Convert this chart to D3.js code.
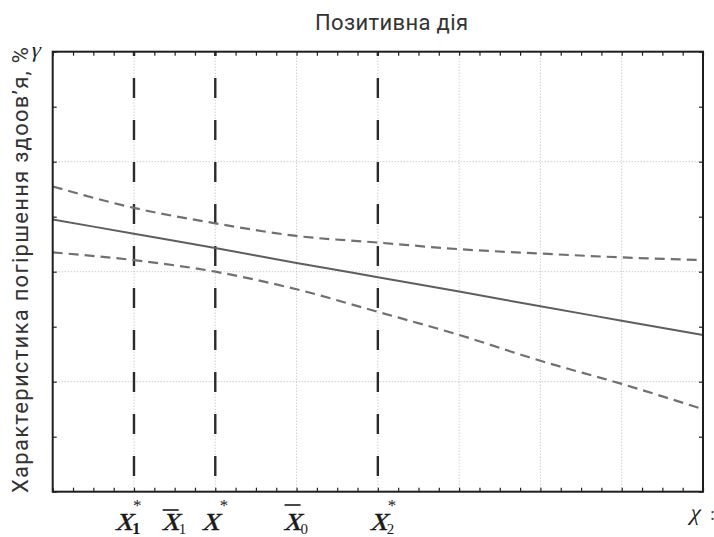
<!DOCTYPE html>
<html>
<head>
<meta charset="utf-8">
<script src="https://cdn.jsdelivr.net/npm/d3@7/dist/d3.min.js"></script>
<style>
  html, body { margin: 0; padding: 0; background: #fff; }
  svg { display: block; }
  .serif { font-family: "Liberation Serif", "DejaVu Serif", serif; }
</style>
</head>
<body>
<div id="chart"></div>
<script>
// ---- data ----
const titleText = "Позитивна дія";
const yLabelText = "Характеристика погіршення здоов’я, %";
const xPoints = [0, 1, 2, 3, 4, 5, 6, 7, 8];
const centralLine = [4.95, 4.69, 4.43, 4.16, 3.90, 3.64, 3.37, 3.11, 2.85];
const upperBound  = [5.55, 5.16, 4.88, 4.65, 4.53, 4.41, 4.33, 4.26, 4.21];
const lowerBound  = [4.35, 4.21, 4.00, 3.68, 3.27, 2.85, 2.38, 1.96, 1.50];
const markerLines = [1, 2, 4];                 // x1*, x*, x2*
const markerLabels = [
  { pos: 1,   base: "x", sub: "1", sup: "*", bar: false, boldSub: true },
  { pos: 1.5, base: "x", sub: "1", sup: "",  bar: true,  boldSub: false },
  { pos: 2,   base: "x", sub: "",  sup: "*", bar: false, boldSub: false },
  { pos: 3,   base: "x", sub: "0", sup: "",  bar: true,  boldSub: false },
  { pos: 4,   base: "x", sub: "2", sup: "*", bar: false, boldSub: false }
];
const xGrid = [1, 2, 3, 4, 5, 6, 7];
const yGrid = [2, 4, 6];
const xDomain = [0, 8];
const yDomain = [0, 8];

// ---- layout ----
const W = 714, H = 537;
const L = 52.7, R = 703, T = 51.7, B = 491.7;

const svg = d3.select("#chart").append("svg")
  .attr("width", W).attr("height", H);

const x = d3.scaleLinear().domain(xDomain).range([L, R]);
const y = d3.scaleLinear().domain(yDomain).range([B, T]);

// gridlines (dotted)
svg.append("g").selectAll("line").data(xGrid).join("line")
  .attr("x1", d => x(d)).attr("x2", d => x(d))
  .attr("y1", T).attr("y2", B)
  .attr("stroke", "#b8b8b8").attr("stroke-width", 1)
  .attr("stroke-dasharray", "1,2");
svg.append("g").selectAll("line").data(yGrid).join("line")
  .attr("y1", d => y(d)).attr("y2", d => y(d))
  .attr("x1", L).attr("x2", R)
  .attr("stroke", "#b8b8b8").attr("stroke-width", 1)
  .attr("stroke-dasharray", "1,2");

// axes with inward ticks
const xMinor = d3.range(0, 8.001, 0.25);
const yMinor = d3.range(0, 8.001, 1);
function styleAxis(g) {
  g.select(".domain").remove();
  g.selectAll(".tick line").attr("stroke", "#222").attr("stroke-width", 1.2);
  g.selectAll(".tick text").remove();
}
svg.append("g").attr("transform", `translate(0,${B})`)
  .call(d3.axisBottom(x).tickValues(xMinor).tickSize(-4).tickFormat(""))
  .call(styleAxis);
svg.append("g").attr("transform", `translate(0,${T})`)
  .call(d3.axisTop(x).tickValues(xMinor).tickSize(-4).tickFormat(""))
  .call(styleAxis);
svg.append("g").attr("transform", `translate(${L},0)`)
  .call(d3.axisLeft(y).tickValues(yMinor).tickSize(-4).tickFormat(""))
  .call(styleAxis);
svg.append("g").attr("transform", `translate(${R},0)`)
  .call(d3.axisRight(y).tickValues(yMinor).tickSize(-4).tickFormat(""))
  .call(styleAxis);

// vertical long-dash marker lines
svg.append("g").selectAll("line").data(markerLines).join("line")
  .attr("x1", d => x(d)).attr("x2", d => x(d))
  .attr("y1", T).attr("y2", B)
  .attr("stroke", "#2a2a2a").attr("stroke-width", 2.4)
  .attr("stroke-dasharray", "20,22")
  .attr("stroke-dashoffset", 15.7);

// series
const line = d3.line()
  .x((d, i) => x(xPoints[i]))
  .y(d => y(d))
  .curve(d3.curveMonotoneX);

svg.append("path").datum(upperBound).attr("d", line)
  .attr("fill", "none").attr("stroke", "#707070").attr("stroke-width", 2.2)
  .attr("stroke-dasharray", "10,6");
svg.append("path").datum(lowerBound).attr("d", line)
  .attr("fill", "none").attr("stroke", "#707070").attr("stroke-width", 2.2)
  .attr("stroke-dasharray", "10,6");
svg.append("path").datum(centralLine).attr("d", line)
  .attr("fill", "none").attr("stroke", "#5e5e5e").attr("stroke-width", 2);

// frame
svg.append("rect")
  .attr("x", L).attr("y", T).attr("width", R - L).attr("height", B - T)
  .attr("fill", "none").attr("stroke", "#1e1e1e").attr("stroke-width", 2);

// title
svg.append("text")
  .attr("x", 391.5).attr("y", 30)
  .attr("text-anchor", "middle")
  .attr("font-family", "Roboto, 'Noto Sans', sans-serif")
  .attr("font-size", 22).attr("fill", "#333")
  .attr("textLength", 153).attr("lengthAdjust", "spacing")
  .text(titleText);

// y label
svg.append("text")
  .attr("transform", `translate(28,270) rotate(-90)`)
  .attr("text-anchor", "middle")
  .attr("font-family", "Roboto, 'Noto Sans', sans-serif")
  .attr("font-size", 22).attr("fill", "#333")
  .attr("textLength", 446).attr("lengthAdjust", "spacing")
  .text(yLabelText);

// gamma and chi axis symbols (slanted by skew)
svg.append("text").attr("class", "serif")
  .attr("transform", "translate(30,57) skewX(-14)")
  .attr("font-size", 22).attr("fill", "#222").text("γ");
svg.append("text").attr("class", "serif")
  .attr("transform", "translate(689,520) skewX(-14)")
  .attr("font-size", 23).attr("fill", "#222").text("χ");
svg.append("text").attr("class", "serif").attr("x", 710).attr("y", 520)
  .attr("font-size", 18).attr("fill", "#444").text(":");

// x marker labels
const labelShift = [-21, -15, -15.5, -15, -10];
const lg = svg.append("g").selectAll("g").data(markerLabels).join("g")
  .attr("transform", (d, i) => `translate(${x(d.pos) + labelShift[i]},0)`);
lg.append("text").attr("class", "serif")
  .attr("transform", "translate(2,530) skewX(-16)")
  .attr("font-size", 35).attr("fill", "#1a1a1a")
  .attr("stroke", "#1a1a1a").attr("stroke-width", 0.3)
  .text(d => d.base);
lg.filter(d => d.sub).append("text").attr("class", "serif")
  .attr("x", 19).attr("y", 534)
  .attr("font-weight", d => d.boldSub ? "bold" : "normal")
  .attr("font-size", d => d.boldSub ? 17 : 15).attr("fill", "#1a1a1a")
  .text(d => d.sub);
lg.filter(d => d.sup).append("text").attr("class", "serif")
  .attr("x", 20).attr("y", 511)
  .attr("font-size", 17).attr("fill", "#1a1a1a")
  .text(d => d.sup);
lg.filter(d => d.bar).append("line")
  .attr("x1", 3).attr("x2", 19)
  .attr("y1", d => d.sub === "0" ? 505 : 510)
  .attr("y2", d => d.sub === "0" ? 505 : 510)
  .attr("stroke", "#1a1a1a").attr("stroke-width", 1.6);
</script>
</body>
</html>
